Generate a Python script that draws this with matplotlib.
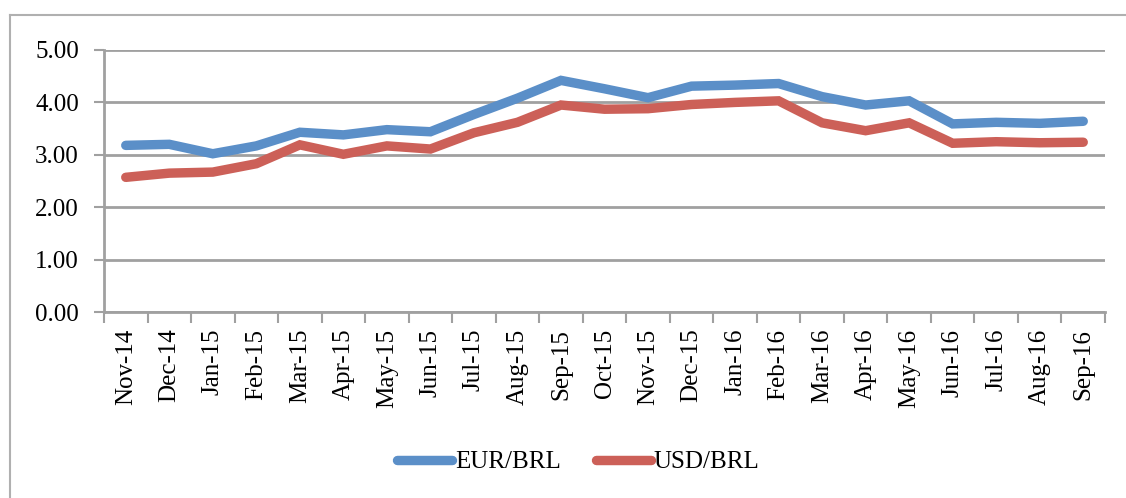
import numpy as np
import matplotlib
matplotlib.use('Agg')
from matplotlib import pyplot as plt
from matplotlib.lines import Line2D

# 月份与汇率数据
months = ['Nov-14', 'Dec-14', 'Jan-15', 'Feb-15', 'Mar-15', 'Apr-15', 'May-15', 'Jun-15',
          'Jul-15', 'Aug-15', 'Sep-15', 'Oct-15', 'Nov-15', 'Dec-15', 'Jan-16', 'Feb-16',
          'Mar-16', 'Apr-16', 'May-16', 'Jun-16', 'Jul-16', 'Aug-16', 'Sep-16']
eur_brl = [3.18, 3.20, 3.02, 3.17, 3.43, 3.38, 3.48, 3.44, 3.77, 4.08, 4.42, 4.26,
           4.09, 4.31, 4.33, 4.36, 4.11, 3.95, 4.03, 3.59, 3.62, 3.60, 3.64]
usd_brl = [2.57, 2.65, 2.67, 2.83, 3.19, 3.01, 3.17, 3.11, 3.42, 3.62, 3.95, 3.87,
           3.88, 3.96, 4.00, 4.03, 3.61, 3.46, 3.61, 3.22, 3.25, 3.23, 3.24]
y_ticks = [0, 1, 2, 3, 4, 5]

blue = '#5b8fc8'
red = '#cc6058'
grey = '#a0a0a0'

plt.rcParams['font.family'] = ['Liberation Serif', 'DejaVu Serif']

fig = plt.figure(figsize=(11.26, 4.98), dpi=100)
ax = fig.add_axes([104/1126, 1-312/498, (1105-104)/1126, (312-50)/498])

x = np.arange(len(months))
ax.plot(x, eur_brl, color=blue, lw=6.8, solid_capstyle='round', solid_joinstyle='miter', zorder=3)
ax.plot(x, usd_brl, color=red, lw=6.8, solid_capstyle='round', solid_joinstyle='miter', zorder=3)

ax.set_xlim(-0.5, len(months) - 0.5)
ax.set_ylim(0, 5)
ax.set_yticks(y_ticks)
ax.set_yticklabels(['%.2f' % v for v in y_ticks], fontsize=18)
ax.set_xticks(x)
ax.set_xticklabels(months, rotation=90, fontsize=18)
ax.set_xticks(np.arange(len(months) + 1) - 0.5, minor=True)
ax.tick_params(axis='x', which='major', length=0, pad=12)
ax.tick_params(axis='x', which='minor', length=8, width=1.5, color=grey, direction='out')
ax.tick_params(axis='y', length=7, width=1.5, color=grey, direction='out', pad=11)

ax.grid(axis='y', color=grey, lw=2)
ax.set_axisbelow(True)
for s in ['top', 'right']:
    ax.spines[s].set_visible(False)
for s in ['left', 'bottom']:
    ax.spines[s].set_color(grey)
    ax.spines[s].set_linewidth(2)

# 图例
handles = [Line2D([], [], color=blue, lw=6.8, solid_capstyle='round'),
           Line2D([], [], color=red, lw=6.8, solid_capstyle='round')]
fig.legend(handles, ['EUR/BRL', 'USD/BRL'], loc='center', bbox_to_anchor=(578/1126, 1-462/498),
           ncol=2, frameon=False, fontsize=18, handlelength=2.2, handletextpad=0.1,
           columnspacing=1.4)

# 外框
fig.add_artist(Line2D([10/1126, 10/1126], [0, 1-15/498], color='#b0b0b0', lw=1.5))
fig.add_artist(Line2D([10/1126, 1], [1-15/498, 1-15/498], color='#b0b0b0', lw=1.5))

fig.savefig('out.png', dpi=100)
